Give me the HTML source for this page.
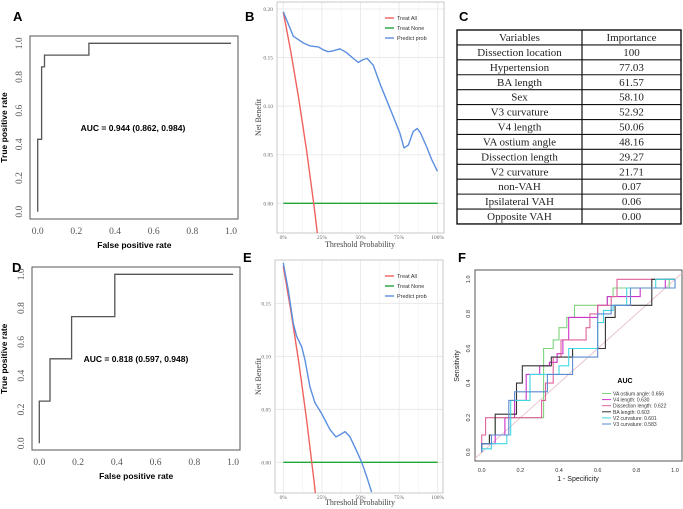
<!DOCTYPE html>
<html><head><meta charset="utf-8"><style>
html,body{margin:0;padding:0;background:#fff;width:683px;height:509px;overflow:hidden;position:relative}
svg{display:block;position:absolute;left:0;top:0}
.sans{font-family:"Liberation Sans",sans-serif}
.serif{font-family:"Liberation Serif",serif}
</style></head><body>
<svg id="fig" width="683" height="509" viewBox="0 0 683 509">
<text x="13" y="21" class="sans" font-size="13" font-weight="bold">A</text>
<text x="245" y="21" class="sans" font-size="13" font-weight="bold">B</text>
<text x="459" y="21" class="sans" font-size="13" font-weight="bold">C</text>
<text x="12" y="272" class="sans" font-size="13" font-weight="bold">D</text>
<text x="243" y="262" class="sans" font-size="13" font-weight="bold">E</text>
<text x="458" y="262" class="sans" font-size="13" font-weight="bold">F</text>
</svg>
<script>
// ---- data ----
const rocA_fpr=[0,0,0.02,0.02,0.035,0.035,0.265,0.265,1];
const rocA_tpr=[0,0.43,0.43,0.86,0.86,0.93,0.93,1,1];
const rocD_fpr=[0,0,0.055,0.055,0.167,0.167,0.39,0.39,1];
const rocD_tpr=[0,0.25,0.25,0.5,0.5,0.75,0.75,1,1];
const rocTicks=[0,0.2,0.4,0.6,0.8,1.0];
const rocTickLabels=["0.0","0.2","0.4","0.6","0.8","1.0"];

const dcaB_t=[0,0.065,0.13,0.173,0.227,0.259,0.29,0.324,0.367,0.41,0.454,0.486,0.518,0.544,0.583,0.626,0.67,0.713,0.756,0.782,0.81,0.842,0.868,0.89,0.929,0.961,0.998];
const dcaB_nb=[0.197,0.172,0.165,0.162,0.161,0.158,0.156,0.157,0.159,0.155,0.149,0.145,0.148,0.149,0.142,0.123,0.106,0.089,0.072,0.057,0.060,0.074,0.077,0.072,0.058,0.045,0.033];
const allB_t=[0,0.05,0.1,0.15,0.2,0.25];
const allB_nb=[0.197,0.155,0.108,0.055,-0.004,-0.07];
const dcaE_t=[0,0.032,0.065,0.086,0.119,0.14,0.173,0.205,0.248,0.302,0.341,0.367,0.4,0.432,0.471,0.508,0.54,0.572];
const dcaE_nb=[0.188,0.163,0.131,0.119,0.109,0.097,0.071,0.056,0.046,0.031,0.024,0.026,0.029,0.024,0.012,0,-0.0135,-0.028];
const allE_t=[0,0.05,0.1,0.15,0.2,0.25];
const allE_nb=[0.185,0.142,0.095,0.041,-0.019,-0.087];
const dcaXTicks=[0,0.25,0.5,0.75,1];
const dcaXLabels=["0%","25%","50%","75%","100%"];
const dcaBYTicks=[0,0.05,0.1,0.15,0.2];
const dcaBYLabels=["0.00","0.05","0.10","0.15","0.20"];
const dcaEYTicks=[0,0.05,0.1,0.15];
const dcaEYLabels=["0.00","0.05","0.10","0.15"];
const legendNames=["Treat All","Treat None","Predict prob"];

const tableVars=["Dissection location","Hypertension","BA length","Sex","V3 curvature","V4 length","VA ostium angle","Dissection length","V2 curvature","non-VAH","Ipsilateral VAH","Opposite VAH"];
const tableImp=["100","77.03","61.57","58.10","52.92","50.06","48.16","29.27","21.71","0.07","0.06","0.00"];

const fNames=["VA ostium angle: 0.656","V4 length: 0.630","Dissection length: 0.622","BA length: 0.603","V2 curvature: 0.601","V3 curvature: 0.583"];
const fGreen_fpr=[0,0.04,0.07,0.18,0.32,0.37,0.40,0.44,0.48,0.65,0.68,0.97,1];
const fGreen_tpr=[0.05,0.1,0.2,0.2,0.6,0.65,0.72,0.78,0.85,0.9,0.95,1,1];
const fMag_fpr=[0,0.07,0.12,0.17,0.23,0.3,0.35,0.39,0.42,0.45,0.6,0.65,0.82,0.95,1];
const fMag_tpr=[0.05,0.1,0.2,0.3,0.45,0.5,0.52,0.57,0.65,0.78,0.85,0.9,0.95,1,1];
const fPink_fpr=[0,0.02,0.31,0.33,0.37,0.41,0.54,0.56,0.6,0.67,0.7,1];
const fPink_tpr=[0.1,0.2,0.3,0.4,0.55,0.65,0.72,0.8,0.85,0.9,1,1];
const fBlack_fpr=[0,0.04,0.07,0.18,0.21,0.32,0.36,0.47,0.64,0.69,0.88,1];
const fBlack_tpr=[0.05,0.1,0.22,0.4,0.5,0.5,0.55,0.6,0.78,0.85,1,1];
const fCyan_fpr=[0,0.05,0.13,0.15,0.25,0.4,0.45,0.6,0.63,0.68,0.75,0.9,1];
const fCyan_tpr=[0.02,0.05,0.1,0.3,0.45,0.5,0.6,0.75,0.82,0.85,0.95,1,1];
const fBlue_fpr=[0,0.05,0.14,0.17,0.34,0.47,0.6,0.67,0.77,1];
const fBlue_tpr=[0.05,0.1,0.3,0.35,0.45,0.55,0.8,0.85,0.95,1];
const fColors=["#7fd37f","#cc33cc","#e0609a","#333333","#40d8e0","#5a8ad0"];

// ---- helpers ----
const NS="http://www.w3.org/2000/svg";
const svg=document.getElementById('fig');
function mk(tag,attrs,parent){const e=document.createElementNS(NS,tag);for(const k in attrs)e.setAttribute(k,attrs[k]);(parent||svg).appendChild(e);return e;}
function lin(d0,d1,r0,r1){return v=>r0+(v-d0)/(d1-d0)*(r1-r0);}

// ---- ROC panels A & D ----
function roc(cfg){
  const x=lin(0,1,cfg.x0,cfg.x1), y=lin(0,1,cfg.y0,cfg.y1);
  const box=mk('rect',{x:cfg.bx,y:cfg.by,width:cfg.bw,height:cfg.bh,fill:'none',stroke:'#555','stroke-width':1});
  
  
  rocTicks.forEach((t,i)=>{
    const tx=mk('text',{x:x(t),y:cfg.by+cfg.bh+15,'text-anchor':'middle','font-size':9.5,fill:'#555',class:'serif'});
    tx.textContent=rocTickLabels[i];
    
    
    const ty=mk('text',{x:0,y:0,'text-anchor':'middle','font-size':9.5,fill:'#555',class:'serif',transform:`translate(${cfg.bx-8},${y(t)}) rotate(-90)`});
    ty.textContent=rocTickLabels[i];
    
    
  });
  let d='';
  cfg.fpr.forEach((v,i)=>{d+=(i?'L':'M')+x(v).toFixed(1)+','+y(cfg.tpr[i]).toFixed(1);});
  const pth=mk('path',{d:d,fill:'none',stroke:'#555','stroke-width':1.3});
  
  
  const xt=mk('text',{x:(cfg.x0+cfg.x1)/2,y:cfg.by+cfg.bh+29,'text-anchor':'middle','font-size':8.5,'font-weight':'bold',class:'sans'});
  xt.textContent='False positive rate';
  
  
  const yt=mk('text',{x:0,y:0,'text-anchor':'middle','font-size':8.5,'font-weight':'bold',class:'sans',transform:`translate(7,${(cfg.y0+cfg.y1)/2}) rotate(-90)`});
  yt.textContent='True positive rate';
  
  
  const au=mk('text',{x:cfg.ax,y:cfg.ay,'text-anchor':'middle','font-size':8.5,'font-weight':'bold',class:'sans'});
  au.textContent=cfg.auc;
  
  
}
roc({p:'panel-a',bx:30,by:36,bw:208,bh:183,x0:37.7,x1:231,y0:211.7,y1:43.3,fpr:rocA_fpr,tpr:rocA_tpr,auc:'AUC = 0.944 (0.862, 0.984)',ax:133,ay:131});
roc({p:'panel-d',bx:32,by:267,bw:208,bh:183,x0:39.3,x1:233,y0:443.3,y1:274.3,fpr:rocD_fpr,tpr:rocD_tpr,auc:'AUC = 0.818 (0.597, 0.948)',ax:136,ay:362});

// ---- DCA panels B & E ----
function dca(cfg){
  const x=lin(0,1,283.3,437.7), y=lin(0,cfg.yv,cfg.yz,cfg.yp);
  const ymin=cfg.yv*(cfg.yz-(cfg.by+cfg.bh))/(cfg.yz-cfg.yp);
  const g=mk('g',{});
  
  
  [0.125,0.375,0.625,0.875].forEach(t=>mk('line',{x1:x(t),x2:x(t),y1:cfg.by,y2:cfg.by+cfg.bh,stroke:'#f2f2f2','stroke-width':0.6},g));
  dcaXTicks.forEach(t=>mk('line',{x1:x(t),x2:x(t),y1:cfg.by,y2:cfg.by+cfg.bh,stroke:'#e6e6e6','stroke-width':0.8},g));
  cfg.yt.forEach(t=>mk('line',{x1:cfg.bx,x2:cfg.bx+cfg.bw,y1:y(t),y2:y(t),stroke:'#e6e6e6','stroke-width':0.8},g));
  const fr=mk('rect',{x:cfg.bx,y:cfg.by,width:cfg.bw,height:cfg.bh,fill:'none',stroke:'#bbb','stroke-width':0.8});
  
  
  dcaXTicks.forEach((t,i)=>{
    const tx=mk('text',{x:x(t),y:cfg.by+cfg.bh+6,'text-anchor':'middle','font-size':5.5,fill:'#666',class:'serif'});
    tx.textContent=dcaXLabels[i];
    
    
  });
  cfg.yt.forEach((t,i)=>{
    const ty=mk('text',{x:cfg.bx-4,y:y(t)+2,'text-anchor':'end','font-size':5.5,fill:'#666',class:'serif'});
    ty.textContent=cfg.yl[i];
    
    
  });
  const xt=mk('text',{x:360,y:cfg.by+cfg.bh+cfg.xtOff,'text-anchor':'middle','font-size':8,fill:'#444',class:'serif'});
  xt.textContent='Threshold Probability';
  
  
  const yt=mk('text',{x:0,y:0,'text-anchor':'middle','font-size':8,fill:'#444',class:'serif',transform:`translate(261,${cfg.by+cfg.bh/2}) rotate(-90)`});
  yt.textContent='Net Benefit';
  
  
  function path(ts,vs,col,name){
    // clip polyline to v >= ymin
    const pts=[];
    for(let i=0;i<ts.length;i++){
      if(vs[i]>=ymin){
        if(i>0&&vs[i-1]<ymin){const f=(ymin-vs[i-1])/(vs[i]-vs[i-1]);pts.push([ts[i-1]+f*(ts[i]-ts[i-1]),ymin]);}
        pts.push([ts[i],vs[i]]);
      }else if(i>0&&vs[i-1]>=ymin){
        const f=(vs[i-1]-ymin)/(vs[i-1]-vs[i]);pts.push([ts[i-1]+f*(ts[i]-ts[i-1]),ymin]);break;
      }
    }
    let d='';pts.forEach((p,i)=>{d+=(i?'L':'M')+x(p[0]).toFixed(1)+','+y(p[1]).toFixed(1);});
    const p=mk('path',{d:d,fill:'none',stroke:col,'stroke-width':1.4,'stroke-linejoin':'round'});
    
    
  }
  path([0,1],[0,0],'#1fa637',cfg.p+'-treat-none-line');
  path(cfg.at,cfg.an,'#f0625e',cfg.p+'-treat-all-line');
  path(cfg.t,cfg.nb,'#5b8fe0',cfg.p+'-predict-prob-line');
  const cols=['#f0625e','#1fa637','#5b8fe0'];
  legendNames.forEach((n,i)=>{
    const ly=cfg.ly+i*10;
    const l=mk('line',{x1:385,x2:394,y1:ly,y2:ly,stroke:cols[i],'stroke-width':1.4});
    
    
    const tx=mk('text',{x:397,y:ly+2,'font-size':5.5,fill:'#333',class:'sans'});
    tx.textContent=n;
    
    
  });
}
dca({p:'panel-b',bx:277,by:2,bw:167,bh:231,yv:0.2,yz:203.3,yp:9,yt:dcaBYTicks,yl:dcaBYLabels,t:dcaB_t,nb:dcaB_nb,at:allB_t,an:allB_nb,ly:18,xtOff:14});
dca({p:'panel-e',bx:275,by:260,bw:168,bh:233,yv:0.15,yz:462.3,yp:303.3,yt:dcaEYTicks,yl:dcaEYLabels,t:dcaE_t,nb:dcaE_nb,at:allE_t,an:allE_nb,ly:276,xtOff:12});

// ---- Table C ----
(function(){
  const L=457,R=681,M=582,T=30,rh=14.92,n=tableVars.length+1;
  const tb=mk('rect',{x:L,y:T,width:R-L,height:rh*n,fill:'#fff',stroke:'#111','stroke-width':1.4});
  
  
  mk('line',{x1:M,x2:M,y1:T,y2:T+rh*n,stroke:'#111','stroke-width':1.2});
  for(let i=1;i<n;i++)mk('line',{x1:L,x2:R,y1:T+rh*i,y2:T+rh*i,stroke:'#111','stroke-width':1.1});
  const rows=[["Variables","Importance"]].concat(tableVars.map((v,i)=>[v,tableImp[i]]));
  rows.forEach((r,i)=>{
    const a=mk('text',{x:(L+M)/2,y:T+rh*i+11,'text-anchor':'middle','font-size':11,fill:'#222',class:'serif'});
    a.textContent=r[0];
    
    
    const b=mk('text',{x:(M+R)/2,y:T+rh*i+11,'text-anchor':'middle','font-size':11,fill:'#222',class:'serif'});
    b.textContent=r[1];
    
    
  });
})();

// ---- Panel F ----
(function(){
  const x=lin(0,1,481.7,675), y=lin(0,1,452.3,279.3);
  const fr=mk('rect',{x:475,y:270,width:207,height:191,fill:'none',stroke:'#444','stroke-width':0.9});
  
  
  const dg=mk('line',{x1:475,y1:y(-0.035),x2:682,y2:y(1.036),stroke:'#e8c0c8','stroke-width':0.9});
  
  
  rocTicks.forEach((t,i)=>{
    const tx=mk('text',{x:x(t),y:472,'text-anchor':'middle','font-size':5.5,fill:'#333',class:'sans'});
    tx.textContent=rocTickLabels[i];
    
    
    const ty=mk('text',{x:0,y:0,'text-anchor':'middle','font-size':5.5,fill:'#333',class:'sans',transform:`translate(470,${y(t)}) rotate(-90)`});
    ty.textContent=rocTickLabels[i];
    
    
  });
  const xt=mk('text',{x:578,y:481,'text-anchor':'middle','font-size':7,fill:'#222',class:'sans'});
  xt.textContent='1 - Specificity';
  
  
  const yt=mk('text',{x:0,y:0,'text-anchor':'middle','font-size':7,fill:'#222',class:'sans',transform:'translate(459,366) rotate(-90)'});
  yt.textContent='Sensitivity';
  
  
  const series=[[fGreen_fpr,fGreen_tpr],[fMag_fpr,fMag_tpr],[fPink_fpr,fPink_tpr],[fBlack_fpr,fBlack_tpr],[fCyan_fpr,fCyan_tpr],[fBlue_fpr,fBlue_tpr]];
  series.forEach((s,k)=>{
    let d='M'+x(0)+','+y(0);
    s[0].forEach((f,i)=>{d+='H'+x(f).toFixed(1)+'V'+y(s[1][i]).toFixed(1);});
    const p=mk('path',{d:d,fill:'none',stroke:fColors[k],'stroke-width':1.1});
    
    
  });
  const at=mk('text',{x:625,y:383,'text-anchor':'middle','font-size':7,'font-weight':'bold',class:'sans'});
  at.textContent='AUC';
  
  
  fNames.forEach((n,i)=>{
    const ly=393.5+i*6.1;
    const l=mk('line',{x1:602,x2:611,y1:ly,y2:ly,stroke:fColors[i],'stroke-width':1});
    
    
    const tx=mk('text',{x:613,y:ly+2,'font-size':5,fill:'#333',class:'sans'});
    tx.textContent=n;
    
    
  });
})();
</script>
</body></html>
